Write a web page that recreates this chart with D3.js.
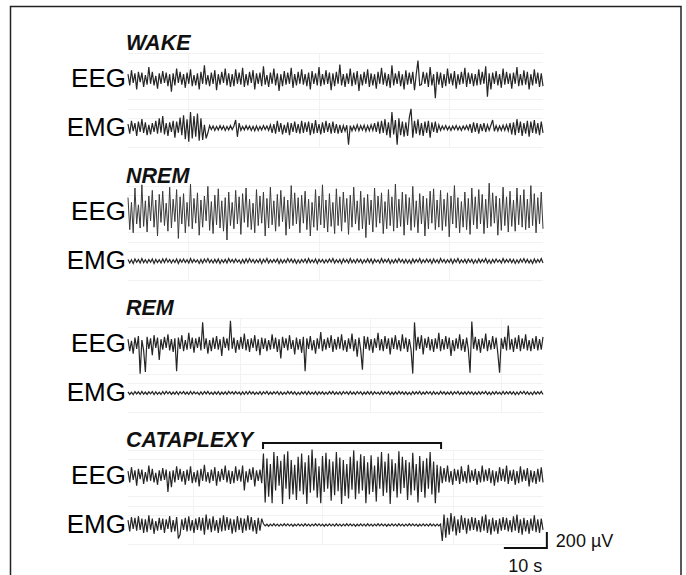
<!DOCTYPE html>
<html><head><meta charset="utf-8">
<script src="https://cdn.jsdelivr.net/npm/d3@7"></script>
<style>body{margin:0;background:#fff}svg{display:block}</style>
</head><body><svg id="c" width="686" height="575"></svg>
<script>
// ---- data (µV, positive = up); 240 samples spanning the 96.5 s window ----
const duration = 96.5;
const states = ["WAKE", "NREM", "REM", "CATAPLEXY"];
const channels = ["EEG", "EMG"];

const wakeEEG = [
60,-80,110,-50,70,-130,90,-40,80,-100,50,-70,150,-60,90,-80,40,-120,70,-60,
100,-50,80,-90,60,-160,70,-80,130,-50,90,-70,60,-110,80,-60,120,-90,50,-80,
70,-130,90,-60,170,-70,50,-90,80,-60,110,-140,60,-70,90,-50,130,-80,70,-100,
60,-90,120,-60,80,-70,140,-100,60,-80,90,-50,110,-130,70,-60,80,-90,160,-70,
50,-100,80,-60,130,-80,70,-150,60,-90,100,-70,80,-60,140,-110,60,-80,90,-60,
120,-70,60,-90,80,-130,100,-60,70,-80,150,-90,60,-70,110,-60,80,-140,70,-90,
90,-60,180,-80,60,-100,70,-60,130,-90,80,-70,100,-150,60,-80,90,-60,120,-100,
70,-80,60,-120,90,-60,140,-70,80,-90,60,-110,170,-80,70,-60,100,-90,60,-130,
110,-70,80,-60,90,-140,60,230,-80,-70,90,-60,80,-100,150,-80,60,-240,90,-70,
80,-110,60,-90,130,-60,70,-80,100,-120,60,-70,90,-60,140,-100,80,-60,70,-90,
60,-80,120,-70,90,-60,160,-220,70,-130,80,-60,100,-80,60,-110,130,-70,90,-60,
70,-120,80,-60,150,-90,60,-80,110,-70,90,-130,60,-80,120,-60,80,-100,70,-90];
const wakeEMG = [
50,-70,90,-40,60,-100,80,-50,110,-60,70,-90,40,-80,60,-50,90,-70,120,-60,
150,-80,60,-100,70,-50,90,-120,80,-60,130,-90,160,-140,110,-170,200,-130,150,-110,
180,-160,120,-150,40,-130,-60,30,-20,25,-30,20,-25,30,-20,25,-30,20,-25,30,
-20,25,100,-110,60,-30,20,-25,30,-20,25,-30,20,-35,25,-30,20,-25,30,-20,
25,-30,40,-60,50,-70,90,-50,60,-80,40,-60,70,-90,60,-50,80,-60,50,-70,
90,-60,70,-50,80,-90,60,-70,100,-60,50,-80,70,-60,90,-50,60,-70,80,-60,
50,-70,40,-60,30,-40,35,-210,30,-35,25,-30,40,-35,30,-25,35,-40,30,-35,
40,-30,60,-50,80,-70,90,-60,110,-90,70,-120,200,-80,100,-210,120,-90,80,-110,
70,-100,130,240,-120,90,-70,110,-90,60,-100,80,-60,90,-120,70,-50,80,-60,40,
-30,25,-20,30,-25,20,-30,25,-20,30,-25,20,-30,25,-20,30,-25,50,-60,70,
-50,60,-70,50,-40,60,-50,40,-30,35,100,-40,30,-35,25,-30,35,-30,40,-35,
60,-80,70,-90,110,-60,80,-100,60,-70,90,-110,80,-60,100,-70,60,-90,80,-60];
const nremEEG = [
180,-220,120,-260,300,-150,90,-200,340,-180,140,-250,200,-110,270,-190,150,-300,220,-130,
260,-170,110,-240,310,-200,160,-120,280,-330,190,-150,230,-260,120,-180,350,-210,170,-140,
240,-290,150,-190,200,-110,320,-230,130,-270,210,-160,290,-200,140,-240,180,-350,250,-170,
120,-210,270,-150,190,-280,230,-130,300,-190,160,-220,110,-260,280,-170,200,-140,250,-300,
170,-200,310,-160,140,-240,220,-180,270,-120,190,-290,150,-210,330,-170,240,-150,180,-260,
210,-140,260,-220,160,-300,120,-190,280,-230,200,-160,340,-200,150,-250,230,-180,120,-270,
290,-170,190,-240,250,-130,170,-280,210,-190,310,-150,140,-230,260,-210,180,-320,220,-160,
150,-250,300,-190,200,-140,240,-270,130,-210,280,-170,190,-240,350,-200,160,-180,250,-290,
220,-160,180,-230,320,-190,140,-260,230,-150,200,-300,170,-210,260,-140,290,-220,150,-190,
270,-230,160,-180,240,-310,200,-150,330,-200,180,-260,130,-190,250,-220,170,-280,300,-160,
190,-210,280,-150,220,-270,160,-200,360,-180,240,-140,200,-290,170,-230,310,-170,190,-250,
260,-180,150,-240,300,-160,210,-190,280,-220,160,-200,330,-170,230,-260,180,-150,250,-210];
const nremEMG = [
20,-25,15,-30,25,-15,20,-25,30,-20,15,-25,20,-15,25,-30,20,-20,15,-25,
25,-20,30,-15,20,-25,15,-20,25,-30,20,-15,25,-20,15,-25,30,-20,20,-15,
15,-30,20,-25,25,-15,30,-20,15,-25,20,-20,25,-30,15,-20,20,-25,30,-15,
20,-20,25,-15,15,-30,20,-25,25,-20,30,-15,20,-25,15,-20,25,-30,20,-15,
30,-25,15,-20,20,-15,25,-30,20,-25,15,-20,30,-15,25,-20,20,-30,15,-25,
20,-15,25,-25,30,-20,15,-20,25,-30,20,-15,20,-25,15,-20,25,-15,30,-25,
15,-20,20,-30,25,-15,20,-25,30,-20,15,-25,25,-15,20,-30,15,-20,25,-20,
25,-30,20,-15,15,-25,30,-20,20,-15,25,-30,15,-25,20,-20,30,-15,20,-25,
20,-25,15,-30,25,-20,20,-15,30,-25,15,-20,25,-15,20,-30,25,-20,15,-25,
30,-15,20,-25,15,-20,25,-30,20,-15,30,-25,15,-20,20,-25,25,-15,20,-30,
15,-25,25,-20,20,-15,30,-25,15,-30,20,-20,25,-15,15,-25,30,-20,20,-15,
25,-20,20,-30,15,-25,25,-15,30,-20,20,-25,15,-30,25,-20,20,-15,30,-25];
const remEEG = [
60,-90,40,-120,80,-60,100,-370,50,-80,-350,90,-60,70,-140,110,-50,80,-200,60,
-70,90,-50,120,-80,60,-100,70,-340,80,-60,110,-90,50,-70,140,-60,80,-110,70,
-50,90,-80,270,-60,70,-120,50,-90,80,-60,100,-70,60,-150,90,-50,70,-80,290,
-60,80,-110,50,-70,90,-60,130,-80,60,-100,70,-50,110,-90,60,-140,80,-60,70,
-90,50,-70,120,-60,80,-100,60,-180,90,-50,70,-80,110,-60,50,-130,80,-70,60,
-110,90,-340,70,-60,100,-80,50,-120,70,-60,150,-90,60,-70,80,-50,110,-100,60,
-70,90,-60,120,-80,50,-100,70,-60,130,-90,60,-160,80,-70,-320,100,-60,90,-80,
60,-110,70,-50,140,-80,60,-90,100,-60,70,-130,80,-60,110,-70,50,-90,120,-60,
80,-100,60,-70,-370,270,-80,90,-60,110,-130,70,-50,90,-80,60,-100,70,-60,140,
-90,60,-70,100,-60,80,-150,50,-90,70,-60,120,-80,60,-100,80,-70,-360,280,-60,
90,-80,60,-110,70,-60,130,-90,50,-70,100,-60,80,-120,-360,70,-60,90,-80,230,
-70,60,-100,80,-60,110,-90,70,-60,120,-80,50,-90,70,-60,100,-80,60,-70,90];
const remEMG = [
15,-18,10,-20,18,-12,15,-18,20,-15,12,-18,15,-10,18,-20,15,-15,10,-18,
18,-15,20,-10,15,-18,12,-15,18,-20,15,-10,18,-15,12,-18,20,-15,15,-12,
10,-20,15,-18,18,-12,20,-15,10,-18,15,-15,18,-20,12,-15,15,-18,20,-10,
15,-15,18,-10,12,-20,15,-18,18,-15,20,-12,15,-18,10,-15,18,-20,15,-10,
20,-18,12,-15,15,-10,18,-20,15,-18,10,-15,20,-12,18,-15,15,-20,10,-18,
15,-12,18,-18,20,-15,10,-15,18,-20,15,-12,15,-18,10,-15,18,-12,20,-18,
12,-15,15,-20,18,-10,15,-18,20,-15,12,-18,18,-10,15,-20,12,-15,18,-15,
18,-20,15,-12,10,-18,20,-15,15,-10,18,-20,12,-18,15,-15,20,-12,15,-18,
15,-18,10,-20,18,-15,15,-12,20,-18,12,-15,18,-10,15,-20,18,-15,10,-18,
20,-12,15,-18,12,-15,18,-20,15,-10,20,-18,12,-15,15,-18,18,-12,15,-20,
12,-18,18,-15,15,-10,20,-18,12,-20,15,-15,18,-12,10,-18,20,-15,15,-12,
18,-15,15,-20,12,-18,18,-10,20,-15,15,-18,10,-20,18,-15,15,-12,20,-18];
const cataEEG = [
60,-80,110,-50,70,-120,90,-40,80,-100,50,-70,130,-60,90,-80,40,-110,70,-60,
100,-50,80,-200,60,-140,70,-80,120,-50,90,-70,60,-110,80,-60,120,-90,50,-80,
70,-130,90,-60,140,-70,50,-90,80,-60,110,-120,60,-70,90,-50,130,-80,70,-100,
60,-90,120,-60,80,-70,130,-180,60,-80,90,-50,110,-130,70,-60,80,-90,280,-330,
220,-260,150,-340,300,-180,250,-120,190,-350,270,-160,310,-290,200,-230,140,-300,240,-190,
280,-230,170,-350,260,-210,330,-180,220,-270,120,-340,250,-200,290,-160,210,-310,180,-240,
300,-190,230,-350,200,-250,150,-280,240,-170,320,-290,190,-220,270,-180,250,-340,170,-230,
260,-200,130,-320,240,-160,300,-250,180,-210,280,-350,210,-190,160,-270,310,-220,240,-150,
200,-300,170,-240,290,-180,150,-330,250,-200,190,-270,220,-160,300,-230,180,-340,140,-210,
120,-90,100,-70,130,-80,60,-110,90,-60,80,-100,120,-70,60,-90,140,-80,70,-60,
90,-110,60,-80,130,-70,80,-60,100,-90,70,-120,60,-80,110,-60,90,-70,130,-100,
70,-60,80,-110,60,-90,120,-70,80,-60,100,-130,70,-80,60,-100,90,-70,110,-80];
const cataEMG = [
60,-80,100,-50,90,-70,110,-60,80,-100,70,-90,120,-60,80,-110,50,-70,90,-60,
80,-100,70,-50,110,-90,60,-80,100,-170,-120,70,-60,90,-80,110,-70,60,-100,80,
-60,100,-70,90,-120,130,-60,80,-90,110,-70,60,-100,90,-80,120,-70,100,-60,80,
-110,70,-90,110,-60,90,-100,80,-70,120,-60,100,-80,60,-110,90,-70,80,15,-10,
12,-15,10,-12,15,-10,12,-14,10,-12,15,-10,13,-12,10,-15,12,-10,14,-12,
10,-13,15,-10,12,-14,10,-12,15,-10,13,-12,10,-15,12,-10,14,-12,10,-13,
15,-10,12,-14,10,-12,15,-10,13,-12,10,-15,12,-10,14,-12,10,-13,15,-10,
12,-14,10,-12,15,-10,13,-12,10,-15,12,-10,14,-12,10,-13,15,-10,12,-14,
10,-12,15,-10,13,-12,10,-15,12,-10,14,-12,10,-13,15,-10,12,-14,10,-12,
12,-200,130,-160,90,-120,150,-80,110,-130,70,-100,120,-60,90,-110,80,-70,100,-60,
90,-80,60,-90,110,-70,130,-100,70,-120,90,-80,60,-110,80,-70,100,-60,90,-80,
60,-90,110,-70,130,-100,70,-120,90,-80,60,-110,80,-70,120,-90,70,-100,80,-60];

const traces = [[wakeEEG, wakeEMG],[nremEEG, nremEMG],[remEEG, remEMG],[cataEEG, cataEMG]];
const cataplexySpan = [31.4, 72.8];   // seconds
const scaleBarTime = 10;              // s
const scaleBarVolt = 200;             // µV
const scaleBarStart = 87.4;           // s
const panelGridT = [[14,44.3,74.7],[14,44.3,74.7],[26,56.3,86.8],[15,45.2,75.5]];

// ---- layout ----
const svg = d3.select("#c");
const font = "Arial, 'Liberation Sans', Helvetica, sans-serif";
svg.append("rect").attr("x",10.5).attr("y",6.5).attr("width",670.5).attr("height",600)
  .attr("fill","none").attr("stroke","#222").attr("stroke-width",1.5);

const x = d3.scaleLinear().domain([0, duration]).range([128, 543]);
const panelTop = [0, 133, 265, 397];
const eegC = 79, emgC = 128;

states.forEach((s, p) => {
  const off = panelTop[p];
  const g = svg.append("g");
  const gy0 = off + 53, gy1 = off + 147;
  [53, 62, 99, 109, 118, 147].forEach(v =>
    g.append("line").attr("x1",128).attr("x2",543).attr("y1",off+v+0.5).attr("y2",off+v+0.5)
      .attr("stroke","#f2f2f2").attr("stroke-width",1));
  panelGridT[p].forEach(t =>
    g.append("line").attr("x1",Math.round(x(t))+0.5).attr("x2",Math.round(x(t))+0.5).attr("y1",gy0).attr("y2",gy1)
      .attr("stroke","#f2f2f2").attr("stroke-width",1));
  g.append("text").attr("x",126).attr("y",off+50).text(s)
    .attr("font-family",font).attr("font-size",21.5).attr("font-weight","bold").attr("font-style","italic").attr("fill","#111");
  channels.forEach((ch, k) => {
    const c = off + (k === 0 ? eegC : emgC);
    const y = d3.scaleLinear().domain([-400, 400]).range([c + 32, c - 32]);
    const data = traces[p][k];
    const n = data.length;
    const line = d3.line().x((d,i) => x(i * duration / (n - 1))).y(d => y(d));
    g.append("path").datum(data).attr("d", line).attr("fill","none")
      .attr("stroke", p === 1 && k === 0 ? "#3a3a3a" : "#262626")
      .attr("stroke-width", p === 1 && k === 0 ? 1 : 1.2).attr("stroke-linejoin","miter");
    g.append("text").attr("x",126).attr("y",c+8).attr("text-anchor","end").text(ch)
      .attr("font-family",font).attr("font-size",26).attr("fill","#000");
  });
});

// cataplexy bracket
const by = 443, bx0 = x(cataplexySpan[0]), bx1 = x(cataplexySpan[1]);
svg.append("path").attr("d", `M${bx0},${by+6}V${by}H${bx1}V${by+6}`)
  .attr("fill","none").attr("stroke","#111").attr("stroke-width",2);

// scale bar
const ySB = d3.scaleLinear().domain([0, 400]).range([548, 516]);
const sx0 = x(scaleBarStart), sx1 = x(scaleBarStart + scaleBarTime);
svg.append("path").attr("d", `M${sx0},${ySB(0)}H${sx1}V${ySB(scaleBarVolt)}`)
  .attr("fill","none").attr("stroke","#111").attr("stroke-width",2);
svg.append("text").attr("x",sx1+9).attr("y",547).text("200 \u00B5V")
  .attr("font-family",font).attr("font-size",18).attr("fill","#111");
svg.append("text").attr("x",(sx0+sx1)/2).attr("y",572).attr("text-anchor","middle").text("10 s")
  .attr("font-family",font).attr("font-size",18).attr("fill","#111");
</script></body></html>
